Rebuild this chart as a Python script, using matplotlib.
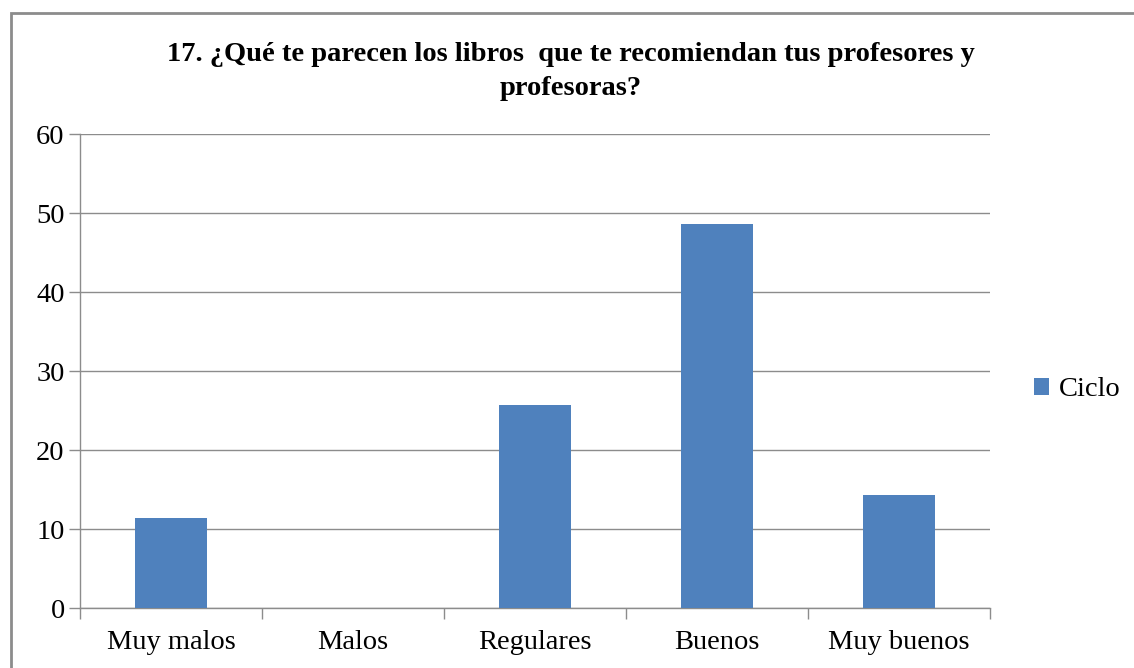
import matplotlib.pyplot as plt
from matplotlib.patches import Rectangle

categories = ['Muy malos', 'Malos', 'Regulares', 'Buenos', 'Muy buenos']
ciclo = [11.4, 0, 25.7, 48.6, 14.3]
yticks = [0, 10, 20, 30, 40, 50, 60]

title = '17. ¿Qué te parecen los libros  que te recomiendan tus profesores y\nprofesoras?'

plt.rcParams['font.family'] = ['Liberation Serif', 'DejaVu Serif']

fig = plt.figure(figsize=(11.34, 6.68), dpi=100)
ax = fig.add_axes([0.0705, 0.0898, 0.8025, 0.7096])

x = range(len(categories))
ax.bar(x, ciclo, width=0.4, color='#4F81BD', label='Ciclo', zorder=3)

ax.set_xlim(-0.5, len(categories) - 0.5)
ax.set_ylim(0, 60)
ax.set_yticks(yticks)
ax.yaxis.grid(True, color='#8c8c8c', linewidth=1, zorder=0)

ax.set_xticks(list(x))
ax.set_xticklabels(categories, fontsize=20.5)
ax.set_xticks([i - 0.5 for i in range(len(categories) + 1)], minor=True)
ax.tick_params(axis='x', which='major', length=0, pad=16)
ax.tick_params(axis='x', which='minor', length=8, color='#8c8c8c', width=1)
ax.tick_params(axis='y', length=8, color='#8c8c8c', width=1, labelsize=20.5, pad=3)

for side in ['top', 'right']:
    ax.spines[side].set_visible(False)
for side in ['left', 'bottom']:
    ax.spines[side].set_color('#8c8c8c')
    ax.spines[side].set_linewidth(1)

fig.text(0.503, 0.893, title, ha='center', va='center', fontsize=20.5,
         fontweight='bold', linespacing=1.45)

ax.legend(loc='center left', bbox_to_anchor=(1.048, 0.46), frameon=False,
          fontsize=20.5, handlelength=0.55, handleheight=0.55, handletextpad=0.35,
          borderpad=0, borderaxespad=0)

# outer chart frame
fig.patches.append(Rectangle((11 / 1134, -0.1), 1.2, 1 - 13 / 668 + 0.1,
                             transform=fig.transFigure, fill=False,
                             edgecolor='#8c8c8c', linewidth=2))

fig.savefig('out.png', dpi=100)
